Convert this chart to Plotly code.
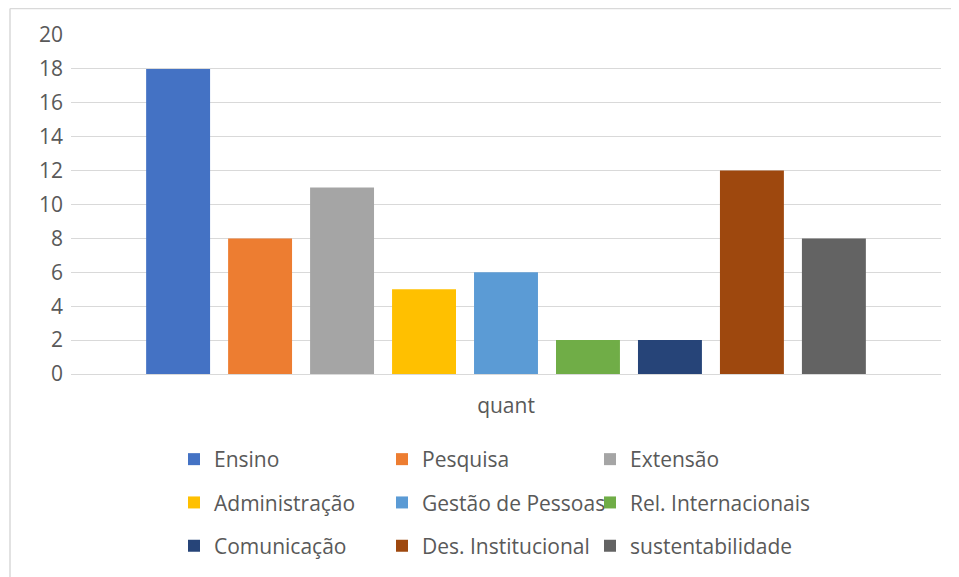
import plotly.graph_objs as go

categories = ['quant']
series_names = ['Ensino', 'Pesquisa', 'Extensão',
                'Administração', 'Gestão de Pessoas', 'Rel. Internacionais',
                'Comunicação', 'Des. Institucional', 'sustentabilidade']
series_values = [18, 8, 11, 5, 6, 2, 2, 12, 8]
series_colors = ['#4472C4', '#ED7D31', '#A5A5A5',
                 '#FFC000', '#5B9BD5', '#70AD47',
                 '#264478', '#9E480E', '#636363']
y_ticks = list(range(0, 21, 2))

# page body has an 8px margin, so the figure is drawn 8px in from the corner
OFF = 8
W, H = 959 - OFF, 577 - OFF
L, R, T, B = 71 - OFF, 18, 35 - OFF, 203
pw, ph = W - L - R, H - T - B

FONT = 'Open Sans'
GREY = '#595959'
FS = 21


def px_x(x):
    return (x - OFF - L) / pw


def px_y(y):
    return (H - B - (y - OFF)) / ph


fig = go.Figure()

# legend is laid out as three columns, one plotly legend per column
legend_ids = ['legend', 'legend2', 'legend3']
for i, (name, val, col) in enumerate(zip(series_names, series_values, series_colors)):
    fig.add_trace(go.Bar(
        x=categories, y=[val], name=name,
        marker=dict(color=col, line=dict(width=0)),
        legend=legend_ids[i % 3], legendgroup=name,
    ))

legend_cols_x = [174, 382, 590]
legend_top = 439
legend_common = dict(
    orientation='v', xanchor='left', yanchor='top',
    tracegroupgap=13, traceorder='grouped',
    font=dict(family=FONT, size=FS, color=GREY),
    bgcolor='rgba(0,0,0,0)',
)

fig.update_layout(
    width=W, height=H,
    margin=dict(l=L, r=R, t=T, b=B, autoexpand=False),
    paper_bgcolor='white', plot_bgcolor='white',
    barmode='group', bargap=0.152, bargroupgap=0.22,
    font=dict(family=FONT, size=FS, color=GREY),
    showlegend=True,
    legend=dict(x=px_x(legend_cols_x[0]), y=px_y(legend_top), **legend_common),
    legend2=dict(x=px_x(legend_cols_x[1]), y=px_y(legend_top), **legend_common),
    legend3=dict(x=px_x(legend_cols_x[2]), y=px_y(legend_top), **legend_common),
    xaxis=dict(
        showgrid=False, showline=True, linecolor='#D9D9D9', linewidth=1,
        ticks='', ticklabelstandoff=13,
        tickfont=dict(family=FONT, size=FS, color=GREY),
    ),
    yaxis=dict(
        range=[0, 20], tickvals=y_ticks, showgrid=True, gridcolor='#D9D9D9',
        gridwidth=1, zeroline=False, showline=False, ticks='',
        ticklabelstandoff=7,
        tickfont=dict(family=FONT, size=FS, color=GREY),
    ),
    shapes=[
        dict(type='line', xref='paper', yref='paper',
             x0=px_x(10), x1=px_x(10), y0=px_y(577), y1=px_y(8.5),
             line=dict(color='#D9D9D9', width=1.5)),
        dict(type='line', xref='paper', yref='paper',
             x0=px_x(10), x1=px_x(959), y0=px_y(8.5), y1=px_y(8.5),
             line=dict(color='#D9D9D9', width=1.5)),
    ],
)

fig.write_html("out.html")
